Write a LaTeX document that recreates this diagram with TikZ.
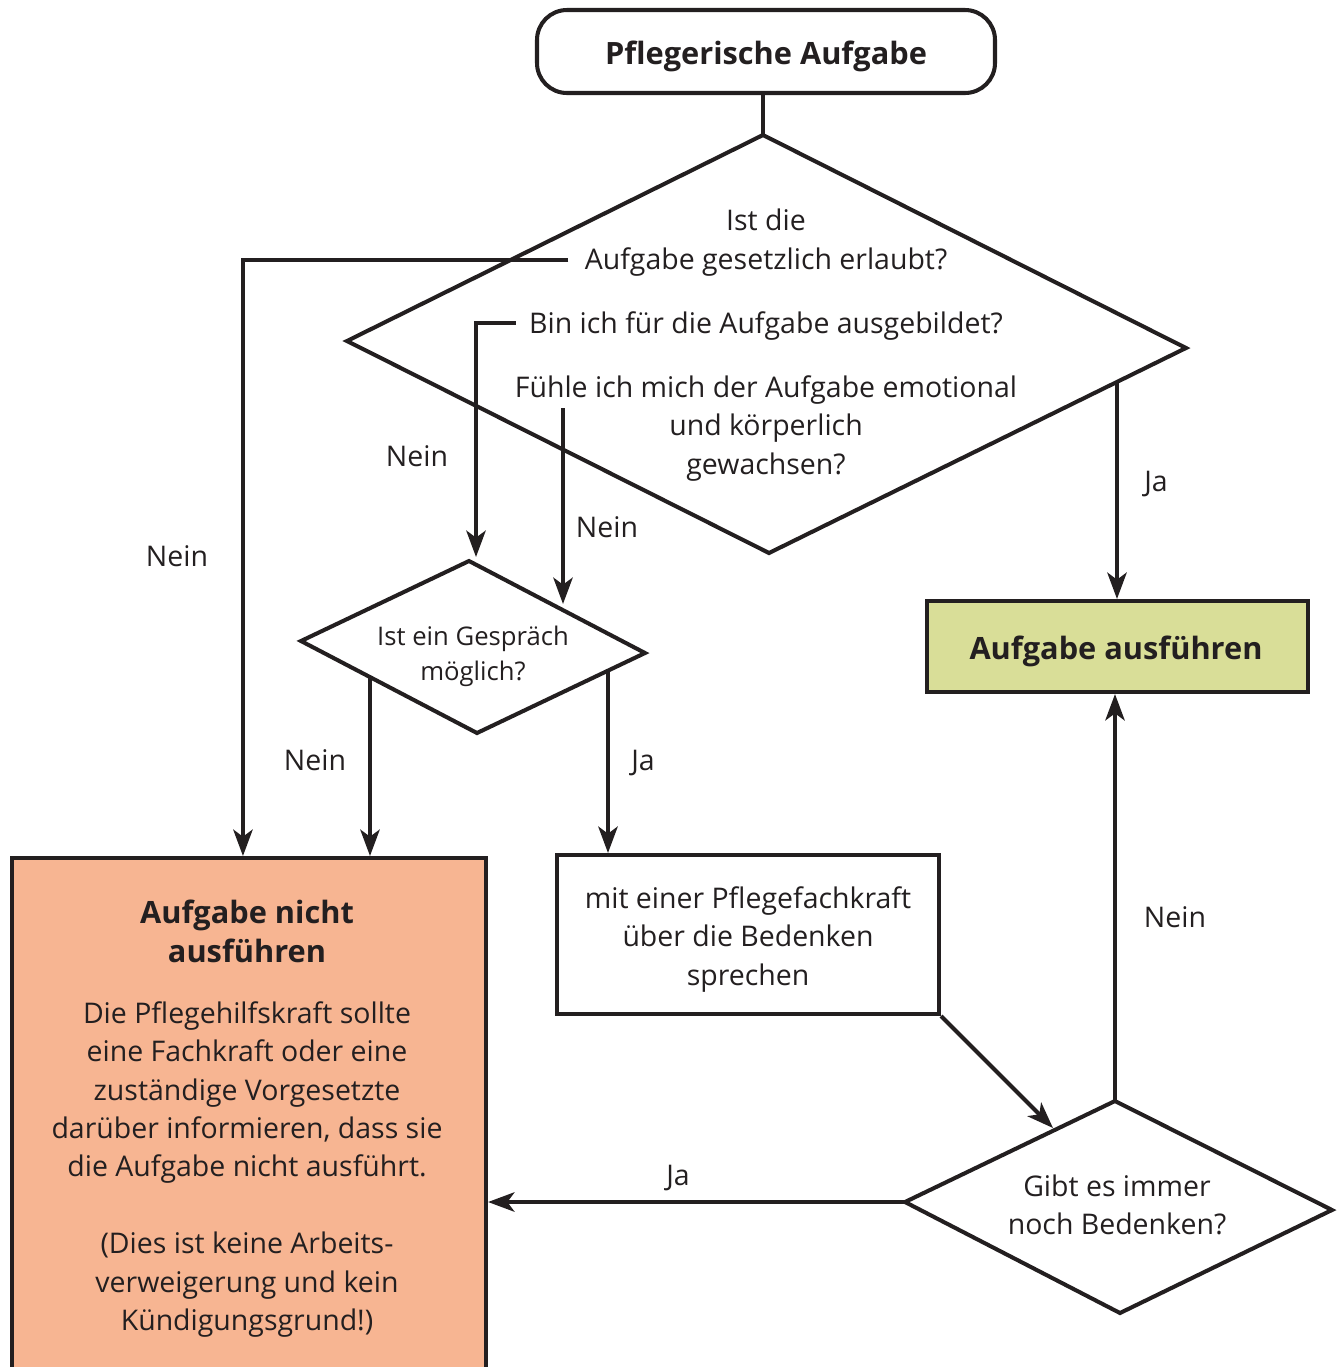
\documentclass[tikz,border=0pt]{standalone}
\usepackage{fontspec}
\setmainfont{Open Sans}
\usetikzlibrary{arrows.meta,calc}
\definecolor{ink}{HTML}{231F20}
\definecolor{okgreen}{HTML}{D9DE98}
\definecolor{noorange}{HTML}{F7B592}
\begin{document}
\begin{tikzpicture}[x=0.02cm,y=-0.02cm,
  line/.style={draw=ink, line width=2.3pt},
  arr/.style={line, -{Stealth[length=15pt,width=11pt,inset=4pt]}},
  txt/.style={text=ink, inner sep=0pt, font=\fontsize{16.2}{21.9}\selectfont, align=center, text height=0.75em, text depth=0.15em},
  mtxt/.style={text=ink, inner sep=0pt, font=\fontsize{16.2}{21.9}\selectfont, align=center},
  stxt/.style={text=ink, inner sep=0pt, font=\fontsize{14.6}{19.9}\selectfont, align=center},
  btxt/.style={text=ink, inner sep=0pt, font=\bfseries\fontsize{17.5}{22.2}\selectfont, align=center},
  lbl/.style={txt},
  box/.style={line, rectangle, inner sep=0pt},
]
\useasboundingbox (0,0) rectangle (1341,1367);
\clip (0,0) rectangle (1341,1367);

% start
\node[box, rounded corners=0.6cm, minimum width=458*0.02cm, minimum height=83*0.02cm] (start) at (766,51.5) {};
\node[btxt] (starttxt) at (766,56) {Pflegerische Aufgabe};

% big diamond
\coordinate (dT) at (763,135);
\coordinate (dR) at (1186,348);
\coordinate (dB) at (769,553);
\coordinate (dL) at (347,341);
\draw[line] (dT) -- (dR) -- (dB) -- (dL) -- cycle;
\draw[line] (dT |- start.south) -- (dT);

\node[txt] (q1a) at (766,225) {Ist die};
\node[txt] (q1b) at (766,264) {Aufgabe gesetzlich erlaubt?};
\node[txt] (q2) at (766,328) {Bin ich für die Aufgabe ausgebildet?};
\node[mtxt] (q3) at (766,428.5) {Fühle ich mich der Aufgabe emotional\\und körperlich\\gewachsen?};

% small diamond
\coordinate (sT) at (469,561);
\coordinate (sR) at (645,653);
\coordinate (sB) at (477,733);
\coordinate (sL) at (301,641);
\draw[line] (sT) -- (sR) -- (sB) -- (sL) -- cycle;
\node[stxt] (sq) at (473,656.5) {Ist ein Gespräch\\möglich?};

% bottom diamond
\coordinate (bT) at (1115,1101);
\coordinate (bR) at (1332,1210);
\coordinate (bB) at (1120,1313);
\coordinate (bL) at (905,1202);
\draw[line] (bT) -- (bR) -- (bB) -- (bL) -- cycle;
\node[mtxt] (bq) at (1117,1205) {Gibt es immer\\noch Bedenken?};

% boxes
\node[box, fill=okgreen, minimum width=381*0.02cm, minimum height=91*0.02cm] (green) at (1117.5,646.5) {};
\node[btxt] (greentxt) at (1116,651) {Aufgabe ausführen};

\node[box, fill=white, minimum width=382*0.02cm, minimum height=159*0.02cm] (mid) at (748,934.5) {};
\node[mtxt] (midtxt) at (748,939.5) {mit einer Pflegefachkraft\\über die Bedenken\\sprechen};

\node[box, fill=noorange, minimum width=474*0.02cm, minimum height=600*0.02cm, anchor=north west] (orange) at (10,856) {};
\node[btxt] (otitle) at (247,931) {Aufgabe nicht\\ausführen};
\node[mtxt] (obody) at (247,1169.5) {Die Pflegehilfskraft sollte\\eine Fachkraft oder eine\\zuständige Vorgesetzte\\darüber informieren, dass sie\\die Aufgabe nicht ausführt.\\[21.9pt](Dies ist keine Arbeits-\\verweigerung und kein\\Kündigungsgrund!)};

% connector points
\coordinate (c3s) at (563,408);
\coordinate (c3e) at (563,604);
\coordinate (c2e) at (476,557);
\coordinate (c4s) at (1117,383);
\coordinate (c5s) at (370,677);
\coordinate (c6s) at (608,671);
\coordinate (c7e) at (1053,1128);

% connectors
\draw[arr] ([xshift=-0.32cm,yshift=0.08cm]q1b.west) -| ([xshift=4.66cm]orange.north west);
\draw[arr] ([xshift=-0.26cm,yshift=0.1cm]q2.west) -| (c2e);
\draw[arr] (c3s) -- (c3e);
\draw[arr] (c4s) -- (c4s |- green.north);
\draw[arr] (c5s) -- (c5s |- orange.north);
\draw[arr] (c6s) -- (c6s |- mid.north);
\draw[arr] (mid.south east) -- (c7e);
\draw[arr] (bT) -- (bT |- green.south);
\draw[arr] (bL) -- (bL -| orange.east);

% labels
\node[lbl] (l1) at (177,561) {Nein};
\node[lbl] (l2) at (417,461) {Nein};
\node[lbl] (l3) at (607,532) {Nein};
\node[lbl] (l4) at (1156,486) {Ja};
\node[lbl] (l5) at (315,765) {Nein};
\node[lbl] (l6) at (643,765) {Ja};
\node[lbl] (l7) at (1175,922) {Nein};
\node[lbl] (l8) at (678,1180) {Ja};
\end{tikzpicture}
\end{document}
